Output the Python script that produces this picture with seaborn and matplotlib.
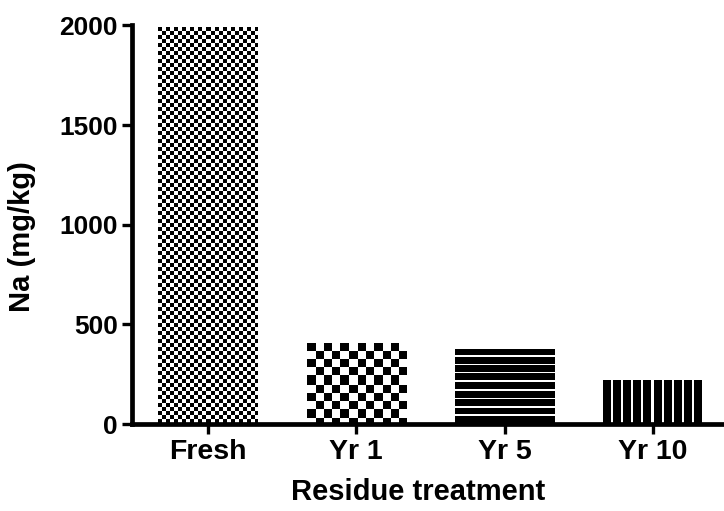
import numpy as np
import pandas as pd
import matplotlib
matplotlib.use("Agg")
import matplotlib.pyplot as plt
import seaborn as sns

categories = ["Fresh", "Yr 1", "Yr 5", "Yr 10"]
values = [1990, 407, 377, 221]
yticks = [0, 500, 1000, 1500, 2000]
xlabel = "Residue treatment"
ylabel = "Na (mg/kg)"

sns.set_theme(style="ticks")
plt.rcParams["font.family"] = ["Liberation Sans", "DejaVu Sans"]
plt.rcParams["font.weight"] = "bold"
plt.rcParams["text.color"] = "black"
plt.rcParams["axes.labelcolor"] = "black"
plt.rcParams["xtick.color"] = "black"
plt.rcParams["ytick.color"] = "black"

W, H, DPI = 724, 511, 100
fig = plt.figure(figsize=(W / DPI, H / DPI), dpi=DPI)
left, right, bottom, top = 132, 724, 424, 25.5
ax = fig.add_axes([left / W, 1 - bottom / H, (right - left) / W, (bottom - top) / H])

df = pd.DataFrame({"cat": categories, "val": values})
sns.barplot(data=df, x="cat", y="val", ax=ax, color="white", width=0.67,
            edgecolor="none", linewidth=0, saturation=1)

ax.set_xlim(-0.512, 3.479)
ax.set_ylim(0, 2000)
ax.set_yticks(yticks)
ax.set_yticklabels([str(t) for t in yticks])

for s in ["top", "right"]:
    ax.spines[s].set_visible(False)
for s in ["left", "bottom"]:
    ax.spines[s].set_linewidth(3.4)
    ax.spines[s].set_color("black")
ax.tick_params(axis="both", length=7, width=2.4, color="black", labelcolor="black",
               direction="out")
ax.tick_params(axis="y", labelsize=19, pad=3)
ax.tick_params(axis="x", labelsize=20.5, pad=4)
for lab in ax.get_xticklabels() + ax.get_yticklabels():
    lab.set_fontweight("bold")
ax.set_xlabel(xlabel, fontsize=21, fontweight="bold", color="black")
ax.set_ylabel(ylabel, fontsize=21, fontweight="bold", color="black")
ax.xaxis.set_label_coords(0.483, -0.135)
ax.yaxis.set_label_coords(-0.162, 0.47)

# textures clipped to bars
def pattern(kind, h, w):
    yy, xx = np.mgrid[0:h, 0:w]
    if kind == "fine":
        c = 4.0
        return (((yy // c) + (xx // c)) % 2).astype(float)
    if kind == "coarse":
        c = w / 12.0
        return ((np.floor(yy / c) + np.floor(xx / c)) % 2).astype(float)
    if kind == "hstripe":
        p = 8.3
        return (((yy % p) >= p - 1.6) & (yy >= 6)).astype(float)
    if kind == "vstripe":
        p = 10.0
        return ((xx % p) >= p - 2).astype(float)

kinds = ["fine", "coarse", "hstripe", "vstripe"]
fig.canvas.draw()
for patch, kind in zip(ax.patches, kinds):
    x0 = patch.get_x(); x1 = x0 + patch.get_width()
    y0 = patch.get_y(); y1 = y0 + patch.get_height()
    (dx0, dy0), (dx1, dy1) = ax.transData.transform([(x0, y0), (x1, y1)])
    wpx = max(int(round(dx1 - dx0)), 1)
    hpx = max(int(round(dy1 - dy0)), 1)
    arr = pattern(kind, hpx, wpx)
    im = ax.imshow(arr, cmap="gray", vmin=0, vmax=1, extent=(x0, x1, y0, y1),
                   origin="upper", aspect="auto", interpolation="nearest", zorder=2)
    im.set_clip_path(patch)

ax.set_xlim(-0.512, 3.479)
ax.set_ylim(0, 2000)
for s in ["left", "bottom"]:
    ax.spines[s].set_zorder(5)
ax.spines["left"].set_bounds(0, 2000)

fig.savefig("out.png", dpi=DPI)
